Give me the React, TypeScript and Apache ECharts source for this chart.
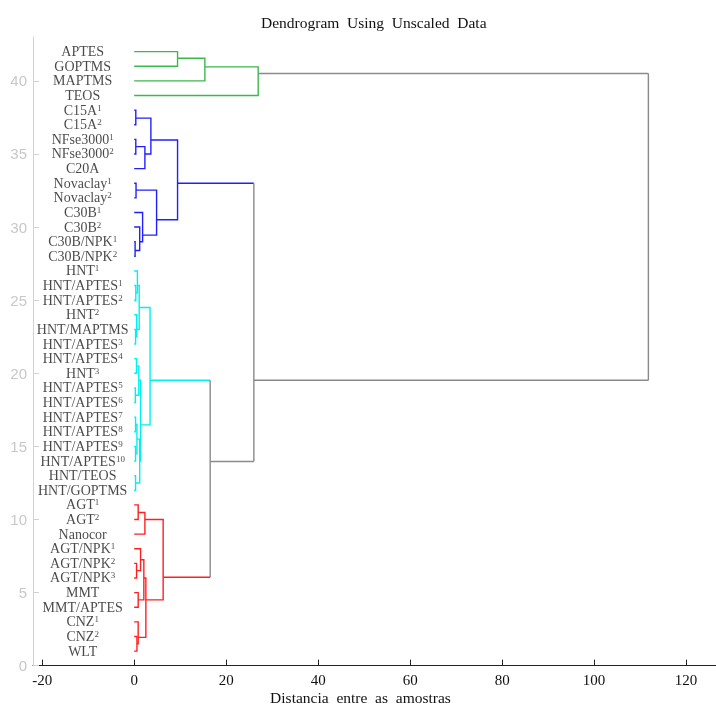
import { useEffect, useRef } from "react";
import * as echarts from "echarts";

// Leaf labels, top to bottom: [base text, superscript]
const leafLabels: [string, string][] = [
  ["APTES", ""], ["GOPTMS", ""], ["MAPTMS", ""], ["TEOS", ""],
  ["C15A", "1"], ["C15A", "2"], ["NFse3000", "1"], ["NFse3000", "2"], ["C20A", ""],
  ["Novaclay", "1"], ["Novaclay", "2"], ["C30B", "1"], ["C30B", "2"], ["C30B/NPK", "1"], ["C30B/NPK", "2"],
  ["HNT", "1"], ["HNT/APTES", "1"], ["HNT/APTES", "2"], ["HNT", "2"], ["HNT/MAPTMS", ""], ["HNT/APTES", "3"],
  ["HNT/APTES", "4"], ["HNT", "3"], ["HNT/APTES", "5"], ["HNT/APTES", "6"], ["HNT/APTES", "7"], ["HNT/APTES", "8"],
  ["HNT/APTES", "9"], ["HNT/APTES", "10"], ["HNT/TEOS", ""], ["HNT/GOPTMS", ""],
  ["AGT", "1"], ["AGT", "2"], ["Nanocor", ""], ["AGT/NPK", "1"], ["AGT/NPK", "2"], ["AGT/NPK", "3"],
  ["MMT", ""], ["MMT/APTES", ""], ["CNZ", "1"], ["CNZ", "2"], ["WLT", ""],
];

const xTicks = [-20, 0, 20, 40, 60, 80, 100, 120];
const yTicks = [0, 5, 10, 15, 20, 25, 30, 35, 40];

// Links: [mergeDistance, yTop, xTopArmStart, yBottom, xBottomArmStart]
const greenLinks: number[][] = [
  [9.43, 42, 0, 41, 0],
  [15.37, 41.55, 9.43, 40, 0],
  [26.96, 40.96, 15.37, 39, 0],
];
const blueLinks: number[][] = [
  [0.35, 38, 0, 37, 0],
  [0.35, 36, 0, 35, 0],
  [2.33, 35.5, 0.35, 34, 0],
  [3.63, 37.45, 0.35, 35.0, 2.33],
  [0.4, 33, 0, 32, 0],
  [0.2, 29, 0, 28, 0],
  [1.2, 30, 0, 28.4, 0.2],
  [1.83, 31, 0, 29.0, 1.2],
  [4.87, 32.53, 0.4, 29.45, 1.83],
  [9.43, 35.96, 3.63, 30.5, 4.87],
];
const cyanLinks: number[][] = [
  [0.35, 26, 0, 25, 0],
  [0.7, 27, 0, 25.5, 0.35],
  [0.3, 23, 0, 22, 0],
  [0.55, 24, 0, 22.5, 0.3],
  [1.09, 26.0, 0.7, 23.0, 0.55],
  [0.5, 21, 0, 20, 0],
  [0.25, 19, 0, 18, 0],
  [1.0, 20.5, 0.5, 18.5, 0.25],
  [0.3, 17, 0, 16, 0],
  [0.3, 15, 0, 14, 0],
  [0.6, 16.5, 0.3, 14.5, 0.3],
  [0.3, 13, 0, 12, 0],
  [1.2, 15.5, 0.6, 12.5, 0.3],
  [1.39, 19.52, 1.0, 14.0, 1.2],
  [3.45, 24.5, 1.09, 16.47, 1.39],
];
const redLinks: number[][] = [
  [0.87, 11, 0, 10, 0],
  [2.33, 10.48, 0.87, 9, 0],
  [0.52, 7, 0, 6, 0],
  [1.39, 8, 0, 6.5, 0.52],
  [0.87, 5, 0, 4, 0],
  [2.1, 7.25, 1.39, 4.5, 0.87],
  [0.6, 2, 0, 1, 0],
  [0.87, 3, 0, 1.5, 0.6],
  [2.54, 6.0, 2.1, 1.94, 0.87],
  [6.3, 10.0, 2.33, 4.5, 2.54],
];
// Upper links: [mergeDistance, yTop, xTop, yBottom, xBottom]; arm colours keyed separately
const grayLinks: number[][] = [
  [16.52, 19.52, 3.45, 6.05, 6.3],
  [26.02, 33.0, 9.43, 13.97, 16.52],
  [111.8, 40.5, 26.96, 19.52, 26.02],
];
const grayArmColors: [string, string][] = [
  ["cyan", "red"],
  ["blue", "gray"],
  ["gray", "gray"],
];

const COLORS: Record<string, string> = {
  green: "#3cb84c",
  blue: "#2020ff",
  cyan: "#00f0f0",
  red: "#ff2020",
  gray: "#8a8a8a",
};

const LABEL_X = -11.2;
const SERIF = "'Liberation Serif', 'Times New Roman', serif";

function uShape(l: number[]) {
  const [h, y1, a1, y2, a2] = l;
  return [[a1, y1], [h, y1], [h, y2], [a2, y2]];
}

export default function App() {
  const ref = useRef<HTMLDivElement>(null);
  useEffect(() => {
    if (!ref.current) return;
    const chart = echarts.init(ref.current, undefined, { renderer: "svg" });

    const lineData: any[] = [];
    const addGroup = (links: number[][], key: string) => {
      links.forEach((l) => lineData.push({ coords: uShape(l), lineStyle: { color: COLORS[key] } }));
    };
    addGroup(greenLinks, "green");
    addGroup(blueLinks, "blue");
    addGroup(cyanLinks, "cyan");
    addGroup(redLinks, "red");
    grayLinks.forEach((l, i) => {
      const [h, y1, a1, y2, a2] = l;
      const [c1, c2] = grayArmColors[i];
      lineData.push({ coords: [[a1, y1], [h, y1]], lineStyle: { color: COLORS[c1] } });
      lineData.push({ coords: [[h, y1], [h, y2]], lineStyle: { color: COLORS.gray } });
      lineData.push({ coords: [[h, y2], [a2, y2]], lineStyle: { color: COLORS[c2] } });
    });

    const n = leafLabels.length;
    const labelData = leafLabels.map((l, i) => ({ value: [LABEL_X, n - i], base: l[0], sup: l[1] }));

    chart.setOption({
      animation: false,
      title: {
        text: "Dendrogram  Using  Unscaled  Data",
        left: 261,
        top: 14,
        padding: 0,
        textStyle: { fontFamily: SERIF, fontSize: 15.5, fontWeight: "normal", color: "#111" },
      },
      grid: { left: 33, right: 0, top: 37, bottom: 40.3, containLabel: false, outerBoundsMode: "none" },
      xAxis: {
        type: "value",
        min: -22,
        max: 126.5,
        name: "Distancia  entre  as  amostras",
        nameLocation: "middle",
        nameGap: 24,
        nameMoveOverlap: false,
        nameTextStyle: { fontFamily: SERIF, fontSize: 15.5, lineHeight: 16, color: "#111", padding: [0, 28, 0, 0] },
        axisLine: { show: true, onZero: false, lineStyle: { color: "#222", width: 1 } },
        axisTick: { show: true, inside: true, length: 6, customValues: xTicks, lineStyle: { color: "#222" } },
        axisLabel: { show: true, customValues: xTicks, fontFamily: SERIF, fontSize: 15, color: "#111", margin: 7 },
        splitLine: { show: false },
      },
      yAxis: {
        type: "value",
        min: 0,
        max: 43,
        axisLine: { show: true, onZero: false, lineStyle: { color: "#d2d2d2", width: 1 } },
        axisTick: { show: true, inside: true, length: 6, customValues: yTicks, lineStyle: { color: "#d2d2d2" } },
        axisLabel: {
          show: true,
          customValues: yTicks,
          fontFamily: "'Liberation Sans', Arial, sans-serif",
          fontSize: 15,
          color: "#c8c8c8",
          margin: 6,
        },
        splitLine: { show: false },
      },
      series: [
        {
          type: "lines",
          coordinateSystem: "cartesian2d",
          polyline: true,
          silent: true,
          lineStyle: { width: 1.4, opacity: 1 },
          data: lineData,
          z: 2,
        },
        {
          type: "scatter",
          symbolSize: 0,
          silent: true,
          data: labelData,
          z: 3,
          label: {
            show: true,
            position: "inside",
            fontFamily: SERIF,
            fontSize: 14,
            lineHeight: 14,
            color: "#1a1a1a",
            formatter: (p: any) => (p.data.sup ? `${p.data.base}{s|${p.data.sup}}` : p.data.base),
            rich: {
              s: { fontFamily: SERIF, fontSize: 9, lineHeight: 9, verticalAlign: "top", color: "#1a1a1a" },
            },
          },
        },
      ],
    });
    return () => chart.dispose();
  }, []);
  return <div ref={ref} style={{ position: "fixed", left: 0, top: 0, width: 716, height: 706 }} />;
}
